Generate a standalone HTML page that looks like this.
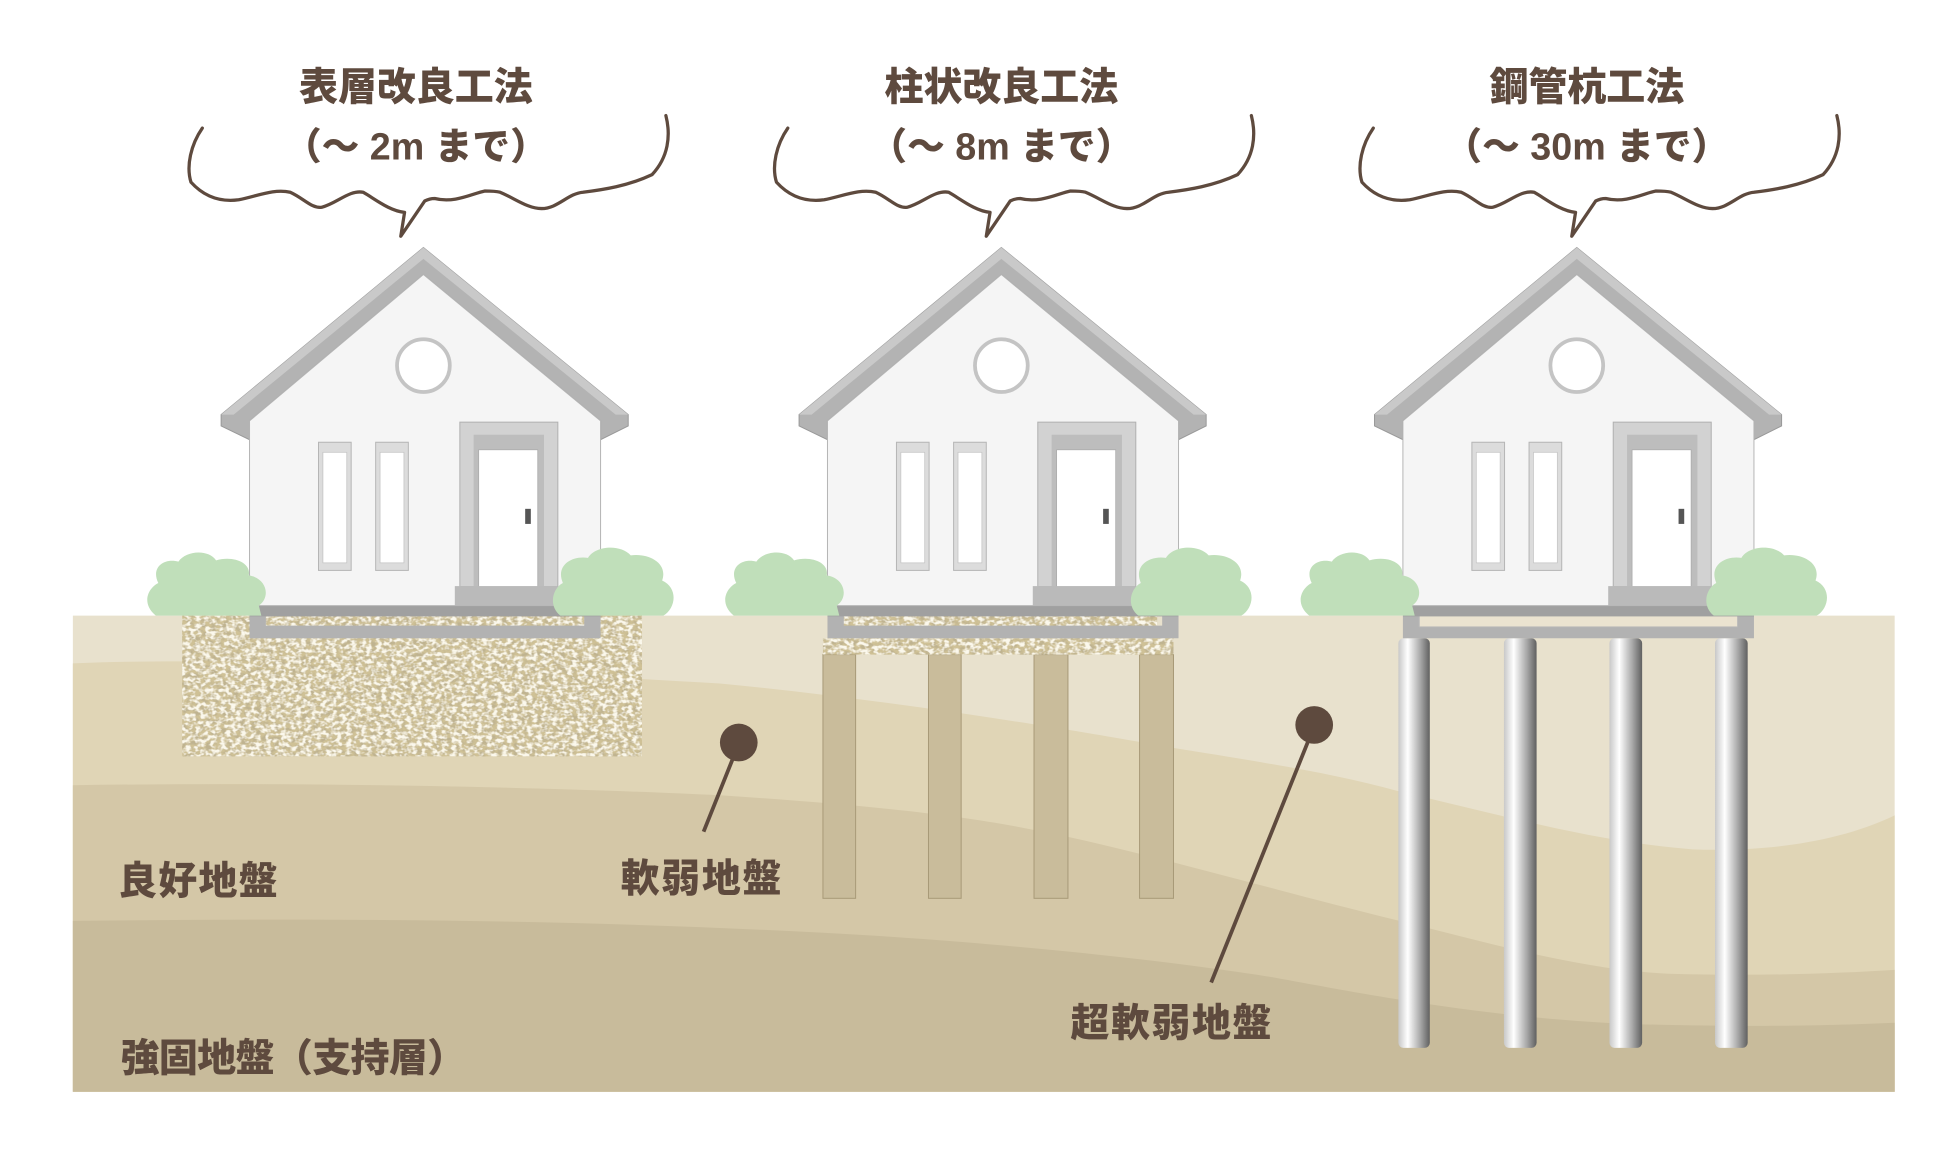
<!DOCTYPE html>
<html><head><meta charset="utf-8"><style>
html,body{margin:0;padding:0;background:#fff;}
svg{display:block;}
text{font-family:"Liberation Sans","Noto Sans CJK JP",sans-serif;font-weight:900;fill:#5e4a3e;}
</style></head><body>
<svg width="1960" height="1155" viewBox="0 0 1560 919.3" preserveAspectRatio="none" xmlns="http://www.w3.org/2000/svg">
<defs>
<filter id="grav" x="0" y="0" width="100%" height="100%">
<feTurbulence type="fractalNoise" baseFrequency="0.22 0.3" numOctaves="2" seed="3" result="n"/>
<feColorMatrix in="n" type="matrix" values="0 0 0 0 0.52  0 0 0 0 0.45  0 0 0 0 0.28  0 0 0 -4 2.3" result="c"/>
<feComposite in="c" in2="SourceGraphic" operator="in" result="t"/>
<feTurbulence type="fractalNoise" baseFrequency="0.25 0.35" numOctaves="2" seed="9" result="n2"/>
<feColorMatrix in="n2" type="matrix" values="0 0 0 0 0.97  0 0 0 0 0.94  0 0 0 0 0.84  0 0 0 4 -1.7" result="c2"/>
<feComposite in="c2" in2="SourceGraphic" operator="in" result="t2"/>
<feMerge><feMergeNode in="SourceGraphic"/><feMergeNode in="t"/><feMergeNode in="t2"/></feMerge>
</filter>
<linearGradient id="steel" x1="0" x2="1" y1="0" y2="0">
<stop offset="0" stop-color="#c8c8c8"/><stop offset="0.3" stop-color="#ffffff"/><stop offset="0.7" stop-color="#a8a8a8"/><stop offset="1" stop-color="#606060"/>
</linearGradient>
<g id="house">
<path d="M337,197 L176,330 L176,339 L198.6,350 L198.6,335 L337,218.5 L478,335 L478,350 L500,339 L500,330 Z" fill="#b3b3b3" stroke="#999" stroke-width="0.8"/>
<path d="M337,197 L176,330 L186,330 L337,206 L490,330 L500,330 Z" fill="#c9c9c9"/>
<path d="M198.6,335 L337,218.5 L478,335 L478,482 L198.6,482 Z" fill="#f5f5f5" stroke="#b5b5b5" stroke-width="0.8"/>
<circle cx="337" cy="291" r="21" fill="#fff" stroke="#c4c4c4" stroke-width="3"/>
<rect x="253.5" y="352" width="26" height="102" fill="#dcdcdc" stroke="#b5b5b5" stroke-width="0.8"/>
<rect x="257" y="360" width="19" height="88" fill="#fff" stroke="#c4c4c4" stroke-width="0.6"/>
<rect x="299" y="352" width="26" height="102" fill="#dcdcdc" stroke="#b5b5b5" stroke-width="0.8"/>
<rect x="302.5" y="360" width="19" height="88" fill="#fff" stroke="#c4c4c4" stroke-width="0.6"/>
<rect x="366" y="336" width="78" height="131" fill="#d2d2d2" stroke="#b0b0b0" stroke-width="0.8"/>
<rect x="377" y="346" width="56" height="121" fill="#bdbdbd"/>
<rect x="381" y="358" width="47" height="109" fill="#fff" stroke="#aaa" stroke-width="0.6"/>
<rect x="418" y="405" width="4.5" height="12" fill="#555"/>
<rect x="362" y="466.5" width="82" height="15.5" fill="#bababa"/>
</g>
<g id="bushL">
<path d="M124,490 C112,480 118,468 126,464 C120,452 130,444 142,447 C148,438 166,437 172,446 C186,442 200,448 198,458 C212,460 216,475 206,482 L208,490 Z" fill="#c0dfba"/>
</g>
<g id="bushR">
<path d="M446,490 C436,482 440,468 448,464 C442,450 455,442 468,444 C474,434 494,433 502,442 C516,440 532,448 527,462 C540,468 538,484 528,490 Z" fill="#c0dfba"/>
</g>
<g id="cloud">
<path d="M161,102 C152,115 148,132 152,145 C162,156 175,161 190,159 C205,156 218,150 231,153 C242,158 248,166 256,165 C268,162 278,151 289,153 C298,158 310,168 322,169 L319,188 L338,160 C342,158 344,158 346,158 C362,162 376,154 386,152 C394,152 398,153 398,153 C410,158 420,166 431,166 C444,166 452,154 464,153 C480,151 500,148 519,139 C532,125 534,108 530,92" fill="none" stroke="#5e4a3e" stroke-width="2.6" stroke-linecap="round" stroke-linejoin="round"/>
</g>
</defs>
<rect width="1560" height="920" fill="#fff"/>
<rect x="58" y="490" width="1450" height="379" fill="#e8e1cd"/>
<path d="M58,528 C200,522 400,534 573,544 C700,556 850,580 926,594 C1000,606 1060,615 1114,630 C1200,650 1270,670 1347,676 C1400,678 1460,672 1508,649 L1508,869 L58,869 Z" fill="#e0d5b6"/>
<path d="M58,625 C250,622 450,627 573,633 C680,640 760,648 820,660 C900,675 1000,705 1114,733 C1190,752 1260,772 1328,775 C1400,777 1460,775 1508,772 L1508,869 L58,869 Z" fill="#d4c7a7"/>
<path d="M58,733 C300,730 500,733 700,745 C850,755 950,768 1014,778 C1080,790 1180,810 1297,815 C1400,818 1460,816 1508,814 L1508,869 L58,869 Z" fill="#c8bb9b"/>
<rect x="145" y="490" width="366" height="112" fill="#cfc196" filter="url(#grav)"/>
<path d="M198.6,490 L478,490 L478,508 L198.6,508 Z M211.6,490 L211.6,498 L465,498 L465,490 Z" fill="#b2b2b2" fill-rule="evenodd"/>
<rect x="198.6" y="481.6" width="279.4" height="9" fill="#a0a0a0"/>
<g fill="#c9bc9b" stroke="#a89a78" stroke-width="0.8">
<rect x="655" y="521" width="26" height="194"/><rect x="739" y="521" width="26" height="194"/>
<rect x="823" y="521" width="27" height="194"/><rect x="907" y="521" width="27" height="194"/>
</g>
<rect x="655" y="508" width="279" height="13" fill="#cfc196" filter="url(#grav)"/>
<rect x="668" y="490" width="253" height="9" fill="#cfc196" filter="url(#grav)"/>
<path d="M658.6,490 L938,490 L938,508 L658.6,508 Z M671.6,490 L671.6,498 L925,498 L925,490 Z" fill="#b2b2b2" fill-rule="evenodd"/>
<rect x="658.6" y="481.6" width="279.4" height="9" fill="#a0a0a0"/>
<rect x="1113" y="508" width="25" height="326" rx="4" fill="url(#steel)"/>
<rect x="1197" y="508" width="26" height="326" rx="4" fill="url(#steel)"/>
<rect x="1281" y="508" width="26" height="326" rx="4" fill="url(#steel)"/>
<rect x="1365" y="508" width="26" height="326" rx="4" fill="url(#steel)"/>
<path d="M1116.6,490 L1396,490 L1396,508 L1116.6,508 Z M1129.6,490 L1129.6,499 L1383,499 L1383,490 Z" fill="#b2b2b2" fill-rule="evenodd"/>
<rect x="1129.6" y="490" width="253.4" height="9" fill="#ebe3d0" stroke="#b8b8b8" stroke-width="0.8"/>
<rect x="1116.6" y="481.6" width="279.4" height="9" fill="#a0a0a0"/>
<use href="#house"/>
<use href="#house" x="460"/>
<use href="#house" x="918"/>
<use href="#bushL"/><use href="#bushR"/>
<use href="#bushL" x="460"/><use href="#bushR" x="460"/>
<use href="#bushL" x="918"/><use href="#bushR" x="918"/>
<use href="#cloud"/><use href="#cloud" x="466"/><use href="#cloud" x="932"/>
<text x="331" y="80" font-size="31" text-anchor="middle">表層改良工法</text>
<text x="331" y="127" font-size="30" text-anchor="middle">（～ 2m まで）</text>
<text x="797" y="80" font-size="31" text-anchor="middle">柱状改良工法</text>
<text x="797" y="127" font-size="30" text-anchor="middle">（～ 8m まで）</text>
<text x="1263" y="80" font-size="31" text-anchor="middle">鋼管杭工法</text>
<text x="1263" y="127" font-size="30" text-anchor="middle">（～ 30m まで）</text>
<line x1="588" y1="592" x2="560" y2="662" stroke="#5e4a3e" stroke-width="3"/>
<ellipse cx="588" cy="591" rx="15" ry="15" fill="#5e4a3e"/>
<line x1="1046" y1="578" x2="964" y2="782" stroke="#5e4a3e" stroke-width="3"/>
<ellipse cx="1046" cy="577" rx="15" ry="15" fill="#5e4a3e"/>
<text x="94" y="712" font-size="31" textLength="127">良好地盤</text>
<text x="494" y="710" font-size="31" textLength="128">軟弱地盤</text>
<text x="852" y="825" font-size="31" textLength="160">超軟弱地盤</text>
<text x="96" y="853" font-size="31" textLength="275">強固地盤（支持層）</text>
</svg>
</body></html>
